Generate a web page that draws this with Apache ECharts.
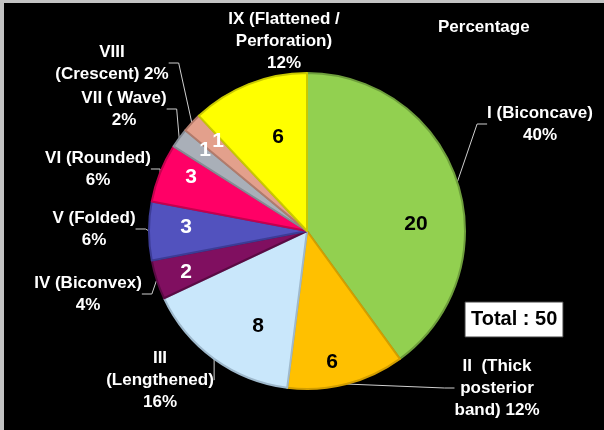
<!DOCTYPE html>
<html>
<head>
<meta charset="utf-8">
<style>
  html, body { margin: 0; padding: 0; background: #000; }
  #main { width: 604px; height: 430px; }
</style>
<script src="https://cdn.jsdelivr.net/npm/echarts@6/dist/echarts.min.js"></script>
</head>
<body>
<div id="main"></div>
<script>
// shape types, clockwise from 12 o'clock
const categories = ['I (Biconcave)', 'II  (Thick\nposterior\nband)', 'III\n(Lengthened)', 'IV (Biconvex)',
  'V (Folded)', 'VI (Rounded)', 'VII ( Wave)', 'VIII\n(Crescent)', 'IX (Flattened /\nPerforation)'];
const counts = [20, 6, 8, 2, 3, 3, 1, 1, 6];
const chartTitle = 'Percentage';

const fills = ['#92D050', '#FFC000', '#C9E7FB', '#800F60', '#5252BE', '#FF0066', '#A9AFB8', '#E3A08C', '#FFFF00'];
const edges = ['#6E9E3C', '#D29E00', '#9FB9CC', '#5A0A44', '#3C3C96', '#C4004E', '#858B94', '#B27B6B', '#C9C900'];
const valueInk = ['#000', '#000', '#000', '#fff', '#fff', '#fff', '#fff', '#fff', '#000'];

const total = counts.reduce((a, b) => a + b, 0);
// where % goes on the same line as the name end
const pctSameLine = [1, 7];

// label centres (outer names / inner counts)
const namePos = [[540, 124], [497, 388], [160, 380], [88, 294], [94, 229], [98, 169], [124, 109], [112, 63], [284, 41]];
const valuePos = [[416, 224], [332, 362], [258, 326], [186, 272], [186, 227], [191, 177], [205, 150], [218, 141], [278, 137]];

const center = [307, 231];
const radius = 158;
const font = '"Liberation Sans", Arial, sans-serif';

const pieData = categories.map((c, i) => ({
  name: c,
  value: counts[i],
  itemStyle: { color: fills[i], borderColor: edges[i] }
}));

let myChart = echarts.init(document.getElementById('main'));
let option = {
  backgroundColor: '#000',
  animation: false,
  title: {
    text: chartTitle,
    left: 433,
    top: 14,
    textStyle: { color: '#fff', fontSize: 17, fontWeight: 'bold', fontFamily: font }
  },
  graphic: [
    { type: 'rect', shape: { x: 0, y: 0, width: 604, height: 3 }, style: { fill: '#C3C3C3' } },
    { type: 'rect', shape: { x: 0, y: 0, width: 4, height: 430 }, style: { fill: '#C3C3C3' } },
    {
      type: 'rect', shape: { x: 465, y: 302, width: 98, height: 35 },
      style: { fill: '#fff', stroke: '#404040', lineWidth: 1 }
    },
    {
      type: 'text', left: 471, top: 309,
      style: { text: 'Total : ' + total, fill: '#000', font: 'bold 20px ' + font }
    }
  ],
  series: [
    {
      name: 'names',
      type: 'pie',
      center: center,
      radius: radius,
      startAngle: 90,
      clockwise: true,
      avoidLabelOverlap: false,
      itemStyle: { borderWidth: 2 },
      emphasis: { disabled: true },
      data: pieData,
      label: {
        show: true,
        position: 'outside',
        color: '#fff',
        fontFamily: font,
        fontWeight: 'bold',
        fontSize: 17,
        lineHeight: 22,
        align: 'center',
        formatter: p => {
          const pct = Math.round(p.value / total * 100) + '%';
          return p.name + (pctSameLine.includes(p.dataIndex) ? ' ' : '\n') + pct;
        }
      },
      labelLine: { show: true, length: 10, length2: 10, lineStyle: { color: '#D0D0D0', width: 1 } },
      labelLayout: p => ({
        x: namePos[p.dataIndex][0],
        y: namePos[p.dataIndex][1],
        align: 'center',
        verticalAlign: 'middle'
      })
    },
    {
      name: 'counts',
      type: 'pie',
      center: center,
      radius: radius,
      startAngle: 90,
      clockwise: true,
      silent: true,
      itemStyle: { color: 'rgba(0,0,0,0)' },
      data: categories.map((c, i) => ({ name: c, value: counts[i], label: { color: valueInk[i] } })),
      label: {
        show: true,
        position: 'inside',
        formatter: '{c}',
        fontFamily: font,
        fontWeight: 'bold',
        fontSize: 21
      },
      labelLine: { show: false },
      labelLayout: p => ({
        x: valuePos[p.dataIndex][0],
        y: valuePos[p.dataIndex][1],
        align: 'center',
        verticalAlign: 'middle'
      })
    }
  ]
};
myChart.setOption(option);
</script>
</body>
</html>
